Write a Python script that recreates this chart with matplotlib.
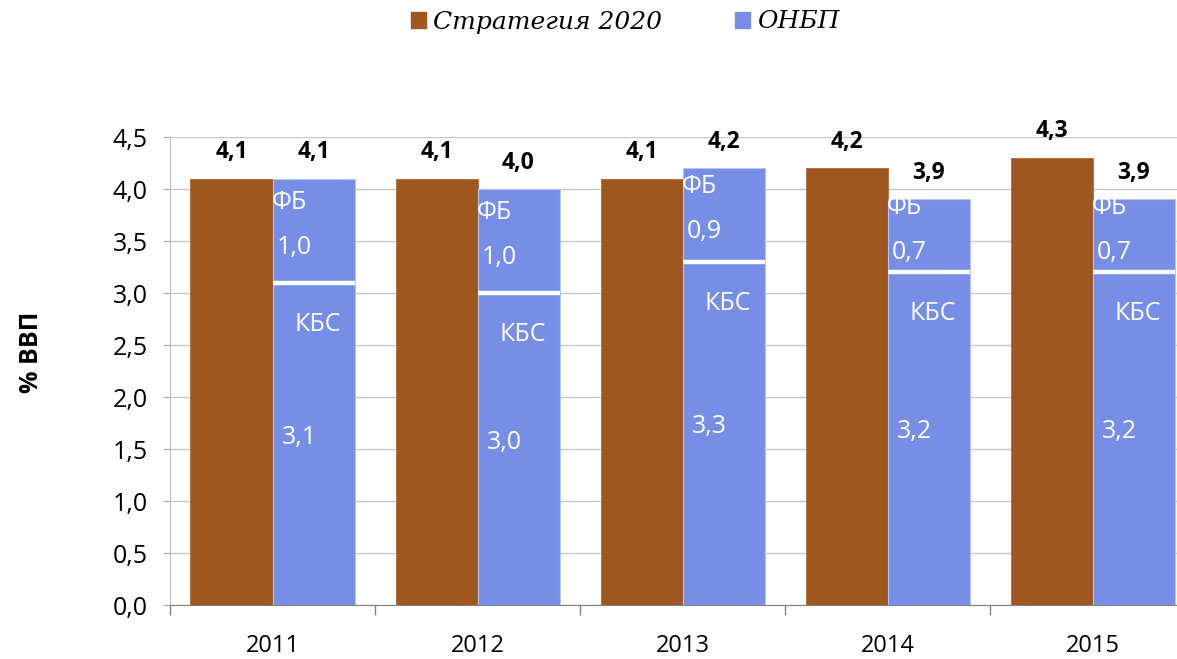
import matplotlib
matplotlib.use('Agg')
import matplotlib.pyplot as plt
import numpy as np

plt.rcParams['font.family'] = 'Open Sans'

years = ['2011', '2012', '2013', '2014', '2015']
strategy = [4.1, 4.1, 4.1, 4.2, 4.3]
kbs = [3.1, 3.0, 3.3, 3.2, 3.2]
fb = [1.0, 1.0, 0.9, 0.7, 0.7]
onbp_total = [4.1, 4.0, 4.2, 3.9, 3.9]

brown = '#A0561F'
blue = '#778EE6'
grid_grey = '#C8C8C8'


def fmt(v):
    return f'{v:.1f}'.replace('.', ',')


fig = plt.figure(figsize=(11.77, 6.59), dpi=100)
ax = fig.add_axes([170 / 1177, 54 / 659, 1025 / 1177, 468 / 659])

x = np.arange(len(years))
w = 0.4

ax.bar(x - w / 2, strategy, width=w, color=brown, edgecolor='#B06A38', linewidth=0.6, zorder=2)
ax.bar(x + w / 2, kbs, width=w, color=blue, edgecolor='#B8C4F2', linewidth=0.8, zorder=2)
ax.bar(x + w / 2, fb, width=w, bottom=kbs, color=blue, edgecolor='#B8C4F2', linewidth=0.8, zorder=2)
# white separator between the two stacked parts
ax.hlines(kbs, x, x + w, colors='white', linewidth=3.2, zorder=3)

# totals above bars
for i in range(len(years)):
    ax.annotate(fmt(strategy[i]), (x[i] - w / 2, strategy[i]), xytext=(0, 19), textcoords='offset points',
                ha='center', va='center', fontsize=16.5, fontweight='bold', color='black')
    ax.annotate(fmt(onbp_total[i]), (x[i] + w / 2, onbp_total[i]), xytext=(0, 19), textcoords='offset points',
                ha='center', va='center', fontsize=16.5, fontweight='bold', color='black')

    # labels inside the stacked bar
    mid_fb = kbs[i] + fb[i] / 2 + 0.04
    ax.text(x[i] - 0.005, mid_fb + 0.23, 'ФБ', ha='left', va='center', fontsize=18, color='white', zorder=4)
    ax.text(x[i] + 0.02, mid_fb - 0.2, fmt(fb[i]), ha='left', va='center', fontsize=18, color='white', zorder=4)
    ax.text(x[i] + w / 2 + 0.02, kbs[i] - 0.4, 'КБС', ha='center', va='center', fontsize=18, color='white', zorder=4)
    ax.text(x[i] + w / 2 - 0.07, kbs[i] * 0.52, fmt(kbs[i]), ha='center', va='center', fontsize=18,
            color='white', zorder=4)

ax.set_xlim(-0.5, len(years) - 0.5)
ax.set_ylim(0, 4.5)
ax.set_yticks(np.arange(0, 4.51, 0.5))
ax.set_yticklabels([fmt(v) for v in np.arange(0, 4.51, 0.5)], fontsize=18)
ax.yaxis.grid(True, color=grid_grey, linewidth=1)
ax.set_axisbelow(True)

ax.set_xticks(x)
ax.set_xticklabels(years, fontsize=17)
ax.set_xticks(np.arange(-0.5, len(years), 1), minor=True)
ax.tick_params(axis='x', which='major', length=0, pad=21)
ax.tick_params(axis='x', which='minor', length=7, color='#808080', width=1)
ax.tick_params(axis='y', length=5, color='#B0B0B0', pad=11)

for s in ['top', 'right']:
    ax.spines[s].set_visible(False)
ax.spines['left'].set_color('#BFBFBF')
ax.spines['bottom'].set_color('#808080')

fig.text(32 / 1177, 1 - 352 / 659, '% ВВП', rotation=90, ha='center', va='center', fontsize=18,
         fontweight='bold')

handles = [plt.Rectangle((0, 0), 1, 1, color=brown), plt.Rectangle((0, 0), 1, 1, color=blue)]
fig.legend(handles, ['Стратегия 2020', 'ОНБП'], loc='center', bbox_to_anchor=(0.531, 1 - 22 / 659), ncol=2,
           frameon=False, prop={'family': 'DejaVu Serif', 'style': 'italic', 'size': 18},
           handlelength=0.6, handleheight=0.6, handletextpad=0.3, columnspacing=2.9)

fig.savefig('out.png', dpi=100)
